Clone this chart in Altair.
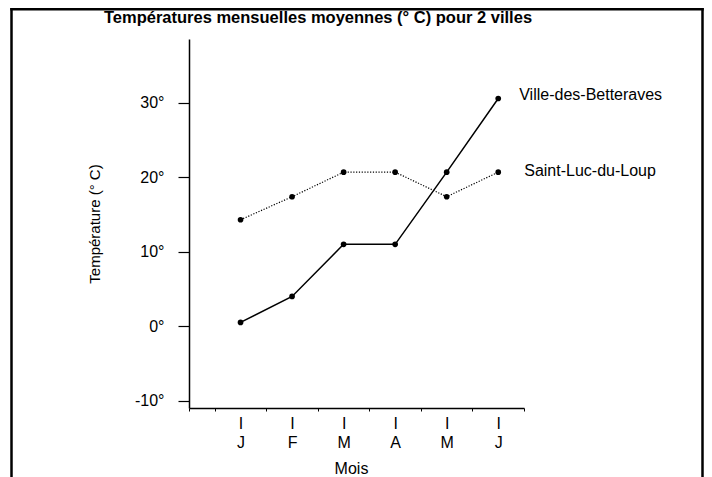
import altair as alt
import pandas as pd

# ---- data ----
months = ["J", "F", "M", "A", "M", "J"]
series_names = ["Ville-des-Betteraves", "Saint-Luc-du-Loup"]
ville_vals = [0.5, 4.0, 11.0, 11.0, 20.7, 30.6]
saint_vals = [14.3, 17.4, 20.7, 20.7, 17.4, 20.7]
y_ticks = [-10, 0, 10, 20, 30]
x_minor = [-1, -0.5, 0.5, 1.5, 2.5, 3.5, 4.5, 5.5]
title_text = "Températures mensuelles moyennes (° C) pour 2 villes"
y_title = "Température (° C)"
x_title = "Mois"

rows = []
for name, vals in zip(series_names, [ville_vals, saint_vals]):
    for i, (m, v) in enumerate(zip(months, vals)):
        rows.append({"i": i, "mois": m, "temp": v, "ville": name})
df = pd.DataFrame(rows)
one = pd.DataFrame({"k": [0]})

FONT = "Liberation Sans"
FS = 16

x_values = sorted(x_minor + list(range(len(months))))
month_arr = "[" + ",".join("'" + m + "'" for m in months) + "]"
is_month = "datum.value >= 0 && datum.value % 1 == 0"
label_expr = f"{is_month} ? ['I', {month_arr}[datum.value]] : ''"

x_enc = alt.X(
    "i:Q",
    scale=alt.Scale(domain=[-1, 5.5], nice=False, zero=False),
    axis=alt.Axis(
        values=x_values,
        labelExpr=label_expr,
        tickSize=3,
        tickWidth=1,
        tickColor="black",
        tickOpacity={"condition": {"test": is_month, "value": 0}, "value": 1},
        labelPadding=4,
        labelLineHeight=19,
        labelFont=FONT,
        labelFontSize=FS,
        labelColor="black",
        labelOverlap=False,
        labelFlush=False,
        labelAlign="center",
        domainColor="black",
        domainWidth=1.5,
        grid=False,
        title=x_title,
        titleFont=FONT,
        titleFontSize=FS,
        titleFontWeight="normal",
        titleColor="black",
        titlePadding=10,
        titleX=162,
    ),
)
y_enc = alt.Y(
    "temp:Q",
    scale=alt.Scale(domain=[-11, 38.6], nice=False, zero=False),
    axis=alt.Axis(
        values=y_ticks,
        labelExpr="datum.value + '°'",
        tickSize=11,
        tickWidth=1.2,
        tickColor="black",
        labelPadding=14,
        labelFont=FONT,
        labelFontSize=FS,
        labelColor="black",
        domainColor="black",
        domainWidth=1.5,
        grid=False,
        title=y_title,
        titleFont=FONT,
        titleFontSize=15,
        titleFontWeight="normal",
        titleColor="black",
        titlePadding=32,
    ),
)

base = alt.Chart(df)
line_v = base.transform_filter(alt.datum.ville == series_names[0]).mark_line(
    color="black", strokeWidth=1.5
).encode(x=x_enc, y=y_enc)
line_s = base.transform_filter(alt.datum.ville == series_names[1]).mark_line(
    color="black", strokeWidth=1.2, strokeDash=[1.2, 1.6]
).encode(x=x_enc, y=y_enc)
pts = base.mark_circle(color="black", size=32, opacity=1).encode(x=x_enc, y=y_enc)

last = len(months) - 1
lab_v = base.transform_filter(
    (alt.datum.ville == series_names[0]) & (alt.datum.i == last)
).mark_text(align="left", baseline="middle", dx=21, dy=-4, font=FONT, fontSize=FS, color="black").encode(
    x=x_enc, y=y_enc, text="ville:N"
)
lab_s = base.transform_filter(
    (alt.datum.ville == series_names[1]) & (alt.datum.i == last)
).mark_text(align="left", baseline="middle", dx=26, dy=-1, font=FONT, fontSize=FS, color="black").encode(
    x=x_enc, y=y_enc, text="ville:N"
)

title = alt.Chart(one).mark_text(
    text=title_text, font=FONT, fontSize=16.5, fontWeight="bold", align="center",
    baseline="alphabetic", color="black"
).encode(x=alt.value(129), y=alt.value(-16))

frame_l = alt.Chart(one).mark_rule(color="black", strokeWidth=2.5).encode(
    x=alt.value(-177.5), y=alt.value(-31), y2=alt.value(440)
)
frame_r = alt.Chart(one).mark_rule(color="black", strokeWidth=2.5).encode(
    x=alt.value(513.5), y=alt.value(-31), y2=alt.value(440)
)
frame_t = alt.Chart(one).mark_rule(color="black", strokeWidth=2.5).encode(
    x=alt.value(-178.75), x2=alt.value(514.75), y=alt.value(-29.75)
)

chart = alt.layer(
    line_v, line_s, pts, lab_v, lab_s, title, frame_l, frame_r, frame_t
).properties(
    width=335,
    height=369,
    autosize="none",
    padding={"left": 181, "top": 31, "right": 180, "bottom": 69},
    background="white",
).configure_view(stroke="transparent")

chart.save("out.html", embed_options={"renderer": "svg", "actions": False})
